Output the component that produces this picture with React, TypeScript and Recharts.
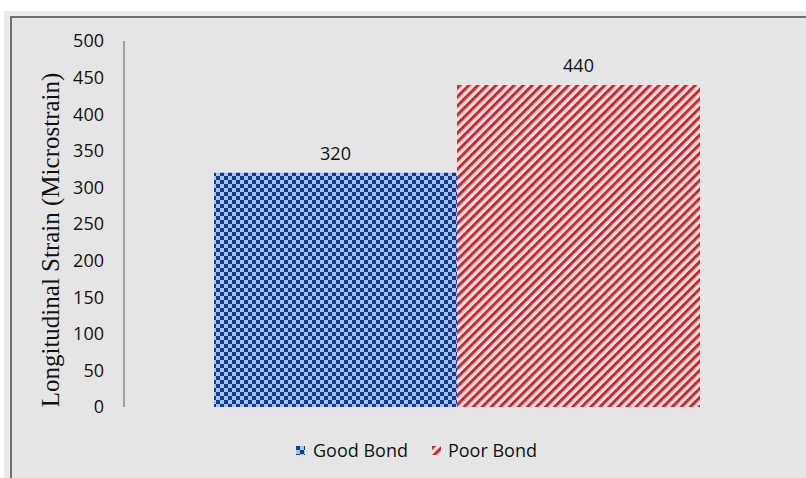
import React from 'react';
import { BarChart, Bar, XAxis, YAxis, Legend, LabelList } from 'recharts';

const categories = ['Bond'];
const goodBond = [320];
const poorBond = [440];
const yTicks = [0, 50, 100, 150, 200, 250, 300, 350, 400, 450, 500];
const seriesNames = ['Good Bond', 'Poor Bond'];

const data = categories.map((name, i) => ({ name, good: goodBond[i], poor: poorBond[i] }));

const SANS = '"Open Sans", sans-serif';

const renderYLabel = (props: any) => {
  const vb = props.viewBox || { x: 64, y: 41, height: 366 };
  const x = vb.x - 14;
  const y = vb.y + vb.height / 2 + 16;
  return (
    <text
      x={x}
      y={y}
      transform={`rotate(-90, ${x}, ${y})`}
      textAnchor="middle"
      dominantBaseline="central"
      fontFamily='"Liberation Serif", serif'
      fontSize={25}
      fill="#111"
    >
      Longitudinal Strain (Microstrain)
    </text>
  );
};

const renderLegend = () => (
  <div style={{ display: 'flex', alignItems: 'center', fontFamily: SANS, fontSize: 18, color: '#111' }}>
    <svg width={9} height={9} style={{ marginRight: 8 }}>
      <rect width={9} height={9} fill="url(#checker)" />
    </svg>
    <span style={{ marginRight: 24 }}>{seriesNames[0]}</span>
    <svg width={9} height={9} style={{ marginRight: 7 }}>
      <rect width={9} height={9} fill="url(#stripes)" />
    </svg>
    <span>{seriesNames[1]}</span>
  </div>
);

export default function App() {
  return (
    <div style={{ position: 'fixed', left: 0, top: 0, width: 806, height: 478, background: '#fff', overflow: 'hidden' }}>
      <div style={{ position: 'absolute', left: 4, top: 11, right: 0, bottom: 0, background: '#ebebeb' }} />
      <div
        style={{
          position: 'absolute',
          left: 10,
          top: 16,
          right: 0,
          bottom: 0,
          background: '#e5e5e5',
          borderLeft: '2px solid #6f6f6f',
          borderTop: '2px solid #6f6f6f',
        }}
      />
      <div style={{ position: 'absolute', left: 0, top: 0 }}>
        <BarChart
          width={806}
          height={478}
          data={data}
          margin={{ top: 41, right: 16, bottom: 71, left: 64 }}
          barCategoryGap={90}
          barGap={0}
        >
          <defs>
            <pattern id="checker" width={8} height={8} patternUnits="userSpaceOnUse">
              <rect width={8} height={8} fill="#a9c4ee" />
              <rect width={4} height={4} fill="#0b3aa6" />
              <rect x={4} y={4} width={4} height={4} fill="#0b3aa6" />
            </pattern>
            <pattern id="stripes" width={6.4} height={6.4} patternUnits="userSpaceOnUse" patternTransform="rotate(45)">
              <rect width={6.4} height={6.4} fill="#f3e3e3" />
              <rect width={3} height={6.4} fill="#da202b" />
            </pattern>
          </defs>
          <XAxis dataKey="name" hide />
          <YAxis
            width={60}
            domain={[0, 500]}
            ticks={yTicks}
            interval={0}
            axisLine={{ stroke: '#8a8a8a', strokeWidth: 1.5 }}
            tickLine={false}
            tickSize={0}
            tickMargin={20}
            tick={{ fill: '#111', fontSize: 18, fontFamily: SANS }}
            label={{ content: renderYLabel }}
          />
          <Legend
            content={renderLegend}
            layout="horizontal"
            verticalAlign="middle"
            wrapperStyle={{ left: 296, top: 438, width: 'auto' }}
          />
          <Bar dataKey="good" name={seriesNames[0]} fill="url(#checker)" isAnimationActive={false}>
            <LabelList dataKey="good" position="top" offset={13} fill="#111" fontSize={18} fontFamily={SANS} />
          </Bar>
          <Bar dataKey="poor" name={seriesNames[1]} fill="url(#stripes)" isAnimationActive={false}>
            <LabelList dataKey="poor" position="top" offset={13} fill="#111" fontSize={18} fontFamily={SANS} />
          </Bar>
        </BarChart>
      </div>
    </div>
  );
}
